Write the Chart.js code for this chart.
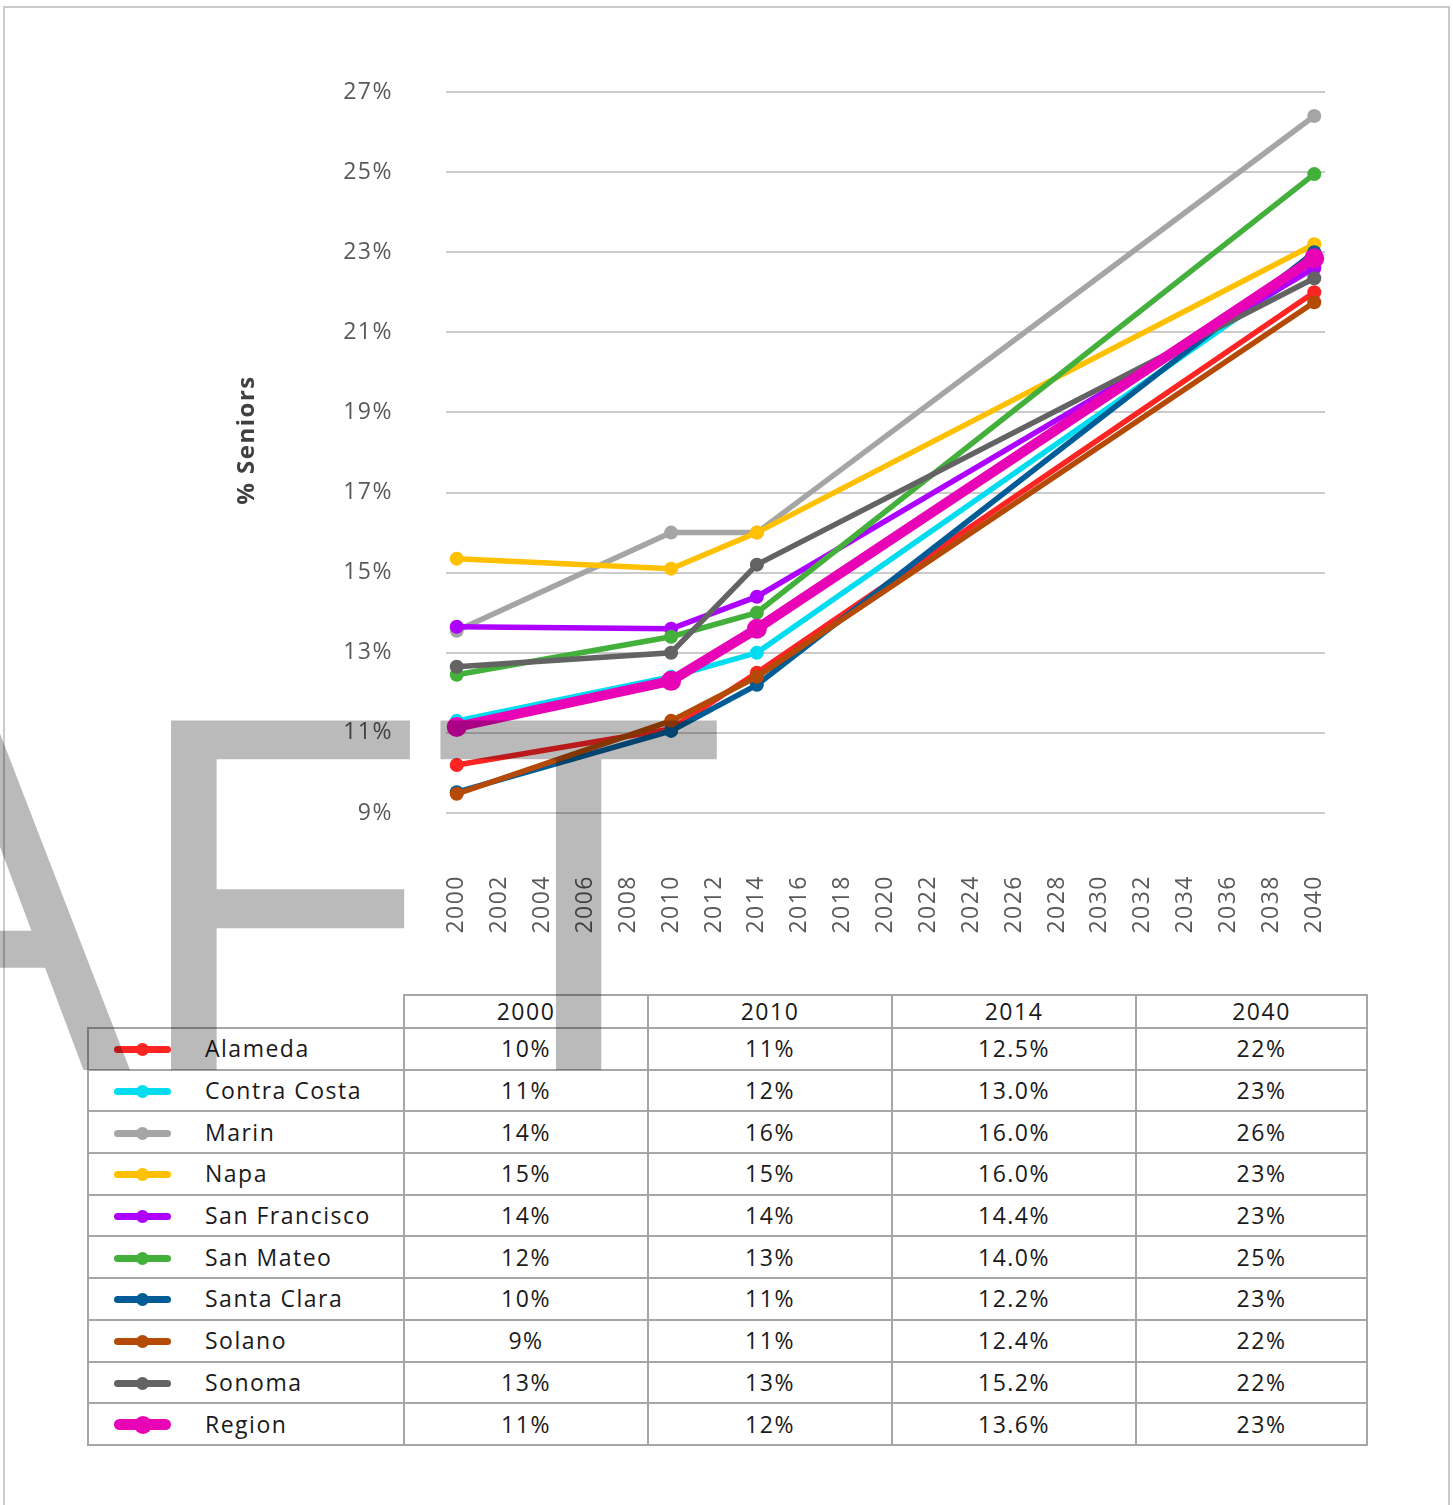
<!DOCTYPE html>
<html>
<head>
<meta charset="utf-8">
<title>% Seniors</title>
<script src="https://cdn.jsdelivr.net/npm/chart.js@4.4.1/dist/chart.umd.min.js"></script>
<style>
  html, body { margin: 0; padding: 0; background: #fff; }
  body { width: 1453px; height: 1505px; position: relative; overflow: hidden; font-family: "Open Sans", sans-serif; }
  #frame { position: absolute; left: 3px; top: 6px; width: 1447px; height: 1540px; border: 2px solid #cacaca; box-sizing: border-box; }
  #wrap { position: absolute; left: 0; top: 0; width: 1453px; height: 960px; }
  #tbl { position: absolute; left: 87px; top: 994px; border-collapse: collapse; table-layout: fixed; width: 1279px;
         font-size: 23px; color: #1a1a1a; letter-spacing: 1.5px; }
  #tbl td { border: 2px solid #a6a6a6; padding: 0; text-align: center; white-space: nowrap; overflow: hidden; }
  #tbl tr.head td { height: 31px; line-height: 31px; }
  #tbl tr.body td { height: 39.7px; line-height: 39px; }
  #tbl td.blank { border-top: none; border-left: none; }
  #tbl td.name { text-align: left; }
  #tbl td.last { padding-left: 20px; }
  .key { display: inline-block; position: relative; width: 57px; height: 20px; vertical-align: middle; margin: -3px 34px 0 25px; }
  .key::before { content: ""; position: absolute; left: 0; right: 0; top: 50%; height: 7px; margin-top: -3.5px; border-radius: 4px; background: var(--c); }
  .key i { position: absolute; left: 50%; top: 50%; width: 13px; height: 13px; margin: -6.5px 0 0 -6.5px; border-radius: 50%; background: var(--c); }
  .key.big::before { height: 11px; margin-top: -5.5px; border-radius: 6px; }
  .key.big i { width: 18px; height: 18px; margin: -9px 0 0 -9px; }
  #mark { position: absolute; left: 0; top: 0; width: 1453px; height: 1505px; pointer-events: none; }
</style>
</head>
<body>
<div id="frame"></div>
<div id="wrap"><canvas id="chart"></canvas></div>
<table id="tbl"></table>
<svg id="mark" width="1453" height="1505" xmlns="http://www.w3.org/2000/svg">
  <text transform="translate(728,1070) scale(0.962,1)" x="0" y="0" text-anchor="end"
        font-family="Liberation Sans, Arial, sans-serif" font-size="508" fill="rgba(0,0,0,0.27)">DRAFT</text>
</svg>
<script>
// Years with observations / projections
const years = [2000, 2010, 2014, 2040];

// Share of population aged 65+ (%), by county
const alameda      = [10.2, 11.1, 12.5, 22.0];
const contraCosta  = [11.3, 12.4, 13.0, 22.7];
const marin        = [13.55, 16.0, 16.0, 26.4];
const napa         = [15.35, 15.1, 16.0, 23.2];
const sanFrancisco = [13.65, 13.6, 14.4, 22.6];
const sanMateo     = [12.45, 13.4, 14.0, 24.95];
const santaClara   = [9.52, 11.05, 12.2, 23.0];
const solano       = [9.48, 11.3, 12.4, 21.75];
const sonoma       = [12.65, 13.0, 15.2, 22.35];
const region       = [11.15, 12.3, 13.6, 22.85];

const seriesNames  = ['Alameda', 'Contra Costa', 'Marin', 'Napa', 'San Francisco',
                      'San Mateo', 'Santa Clara', 'Solano', 'Sonoma', 'Region'];
const seriesValues = [alameda, contraCosta, marin, napa, sanFrancisco,
                      sanMateo, santaClara, solano, sonoma, region];
const seriesColors = ['#FF2424', '#00DDF0', '#A5A5A5', '#FFC000', '#AE00FF',
                      '#44B03C', '#005C97', '#B44A05', '#636363', '#E803B6'];

// Axis tick labels
const xTicks = [2000, 2002, 2004, 2006, 2008, 2010, 2012, 2014, 2016, 2018, 2020,
                2022, 2024, 2026, 2028, 2030, 2032, 2034, 2036, 2038, 2040];
const yTicks = [9, 11, 13, 15, 17, 19, 21, 23, 25, 27];

// Decimal places shown in the data table, per year column
const tableDecimals = [0, 0, 1, 0];

const FONT = '"Open Sans", sans-serif';
const lastIndex = seriesNames.length - 1;

const datasets = seriesNames.map((name, i) => {
  const isRegion = i === lastIndex;
  return {
    label: name,
    data: years.map((yr, k) => ({ x: yr, y: seriesValues[i][k] })),
    borderColor: seriesColors[i],
    backgroundColor: seriesColors[i],
    pointBackgroundColor: seriesColors[i],
    pointBorderWidth: 0,
    pointRadius: isRegion ? 10 : 7,
    borderWidth: isRegion ? 10 : 5.5,
    tension: 0,
    order: seriesNames.length - i
  };
});

const spacing = {
  id: 'spacing',
  beforeUpdate(c) { c.ctx.letterSpacing = '1.5px'; },
  beforeDraw(c) { c.ctx.letterSpacing = '1.5px'; }
};

const yTitle = {
  id: 'yTitle',
  afterDraw(c) {
    const ctx = c.ctx;
    ctx.save();
    ctx.letterSpacing = '1.5px';
    ctx.translate(247, 440);
    ctx.rotate(-Math.PI / 2);
    ctx.font = 'bold 24px ' + FONT;
    ctx.fillStyle = '#404040';
    ctx.textAlign = 'center';
    ctx.textBaseline = 'middle';
    ctx.fillText('% Seniors', 0, 0);
    ctx.restore();
  }
};

new Chart(document.getElementById('chart'), {
  type: 'line',
  data: { datasets },
  plugins: [spacing, yTitle],
  options: {
    responsive: true,
    maintainAspectRatio: false,
    animation: false,
    devicePixelRatio: 1,
    layout: { padding: { left: 0, right: 128, top: 92, bottom: 0 } },
    plugins: { legend: { display: false }, tooltip: { enabled: false } },
    scales: {
      x: {
        type: 'linear',
        min: 1999.5,
        max: 2040.5,
        afterBuildTicks(scale) { scale.ticks = xTicks.map(v => ({ value: v })); },
        afterFit(scale) { scale.height = 147; },
        grid: { display: false, drawTicks: false },
        border: { display: false },
        ticks: {
          minRotation: 90,
          maxRotation: 90,
          autoSkip: false,
          padding: 62,
          color: '#595959',
          font: { family: FONT, size: 23 },
          callback: v => String(v)
        }
      },
      y: {
        min: 9,
        max: 27,
        afterBuildTicks(scale) { scale.ticks = yTicks.map(v => ({ value: v })); },
        afterFit(scale) { scale.width = 446; },
        grid: { color: '#cbcbcb', lineWidth: 2, drawTicks: false },
        border: { display: false },
        ticks: {
          padding: 53,
          color: '#595959',
          font: { family: FONT, size: 23 },
          callback: v => v + '%'
        }
      }
    }
  }
});

// Data table with legend keys under the chart
const tbl = document.getElementById('tbl');
const colgroup = document.createElement('colgroup');
[316, 244, 244, 244, 231].forEach(w => {
  const col = document.createElement('col');
  col.style.width = w + 'px';
  colgroup.appendChild(col);
});
tbl.appendChild(colgroup);

const head = document.createElement('tr');
head.className = 'head';
const blank = document.createElement('td');
blank.className = 'blank';
head.appendChild(blank);
years.forEach((yr, k) => {
  const td = document.createElement('td');
  td.textContent = String(yr);
  if (k === years.length - 1) td.className = 'last';
  head.appendChild(td);
});
tbl.appendChild(head);

seriesNames.forEach((name, i) => {
  const tr = document.createElement('tr');
  tr.className = 'body';
  const nameCell = document.createElement('td');
  nameCell.className = 'name';
  const key = document.createElement('span');
  key.className = 'key' + (i === lastIndex ? ' big' : '');
  key.style.setProperty('--c', seriesColors[i]);
  key.appendChild(document.createElement('i'));
  nameCell.appendChild(key);
  nameCell.appendChild(document.createTextNode(name));
  tr.appendChild(nameCell);
  seriesValues[i].forEach((v, k) => {
    const td = document.createElement('td');
    td.textContent = v.toFixed(tableDecimals[k]) + '%';
    if (k === years.length - 1) td.className = 'last';
    tr.appendChild(td);
  });
  tbl.appendChild(tr);
});
</script>
</body>
</html>
